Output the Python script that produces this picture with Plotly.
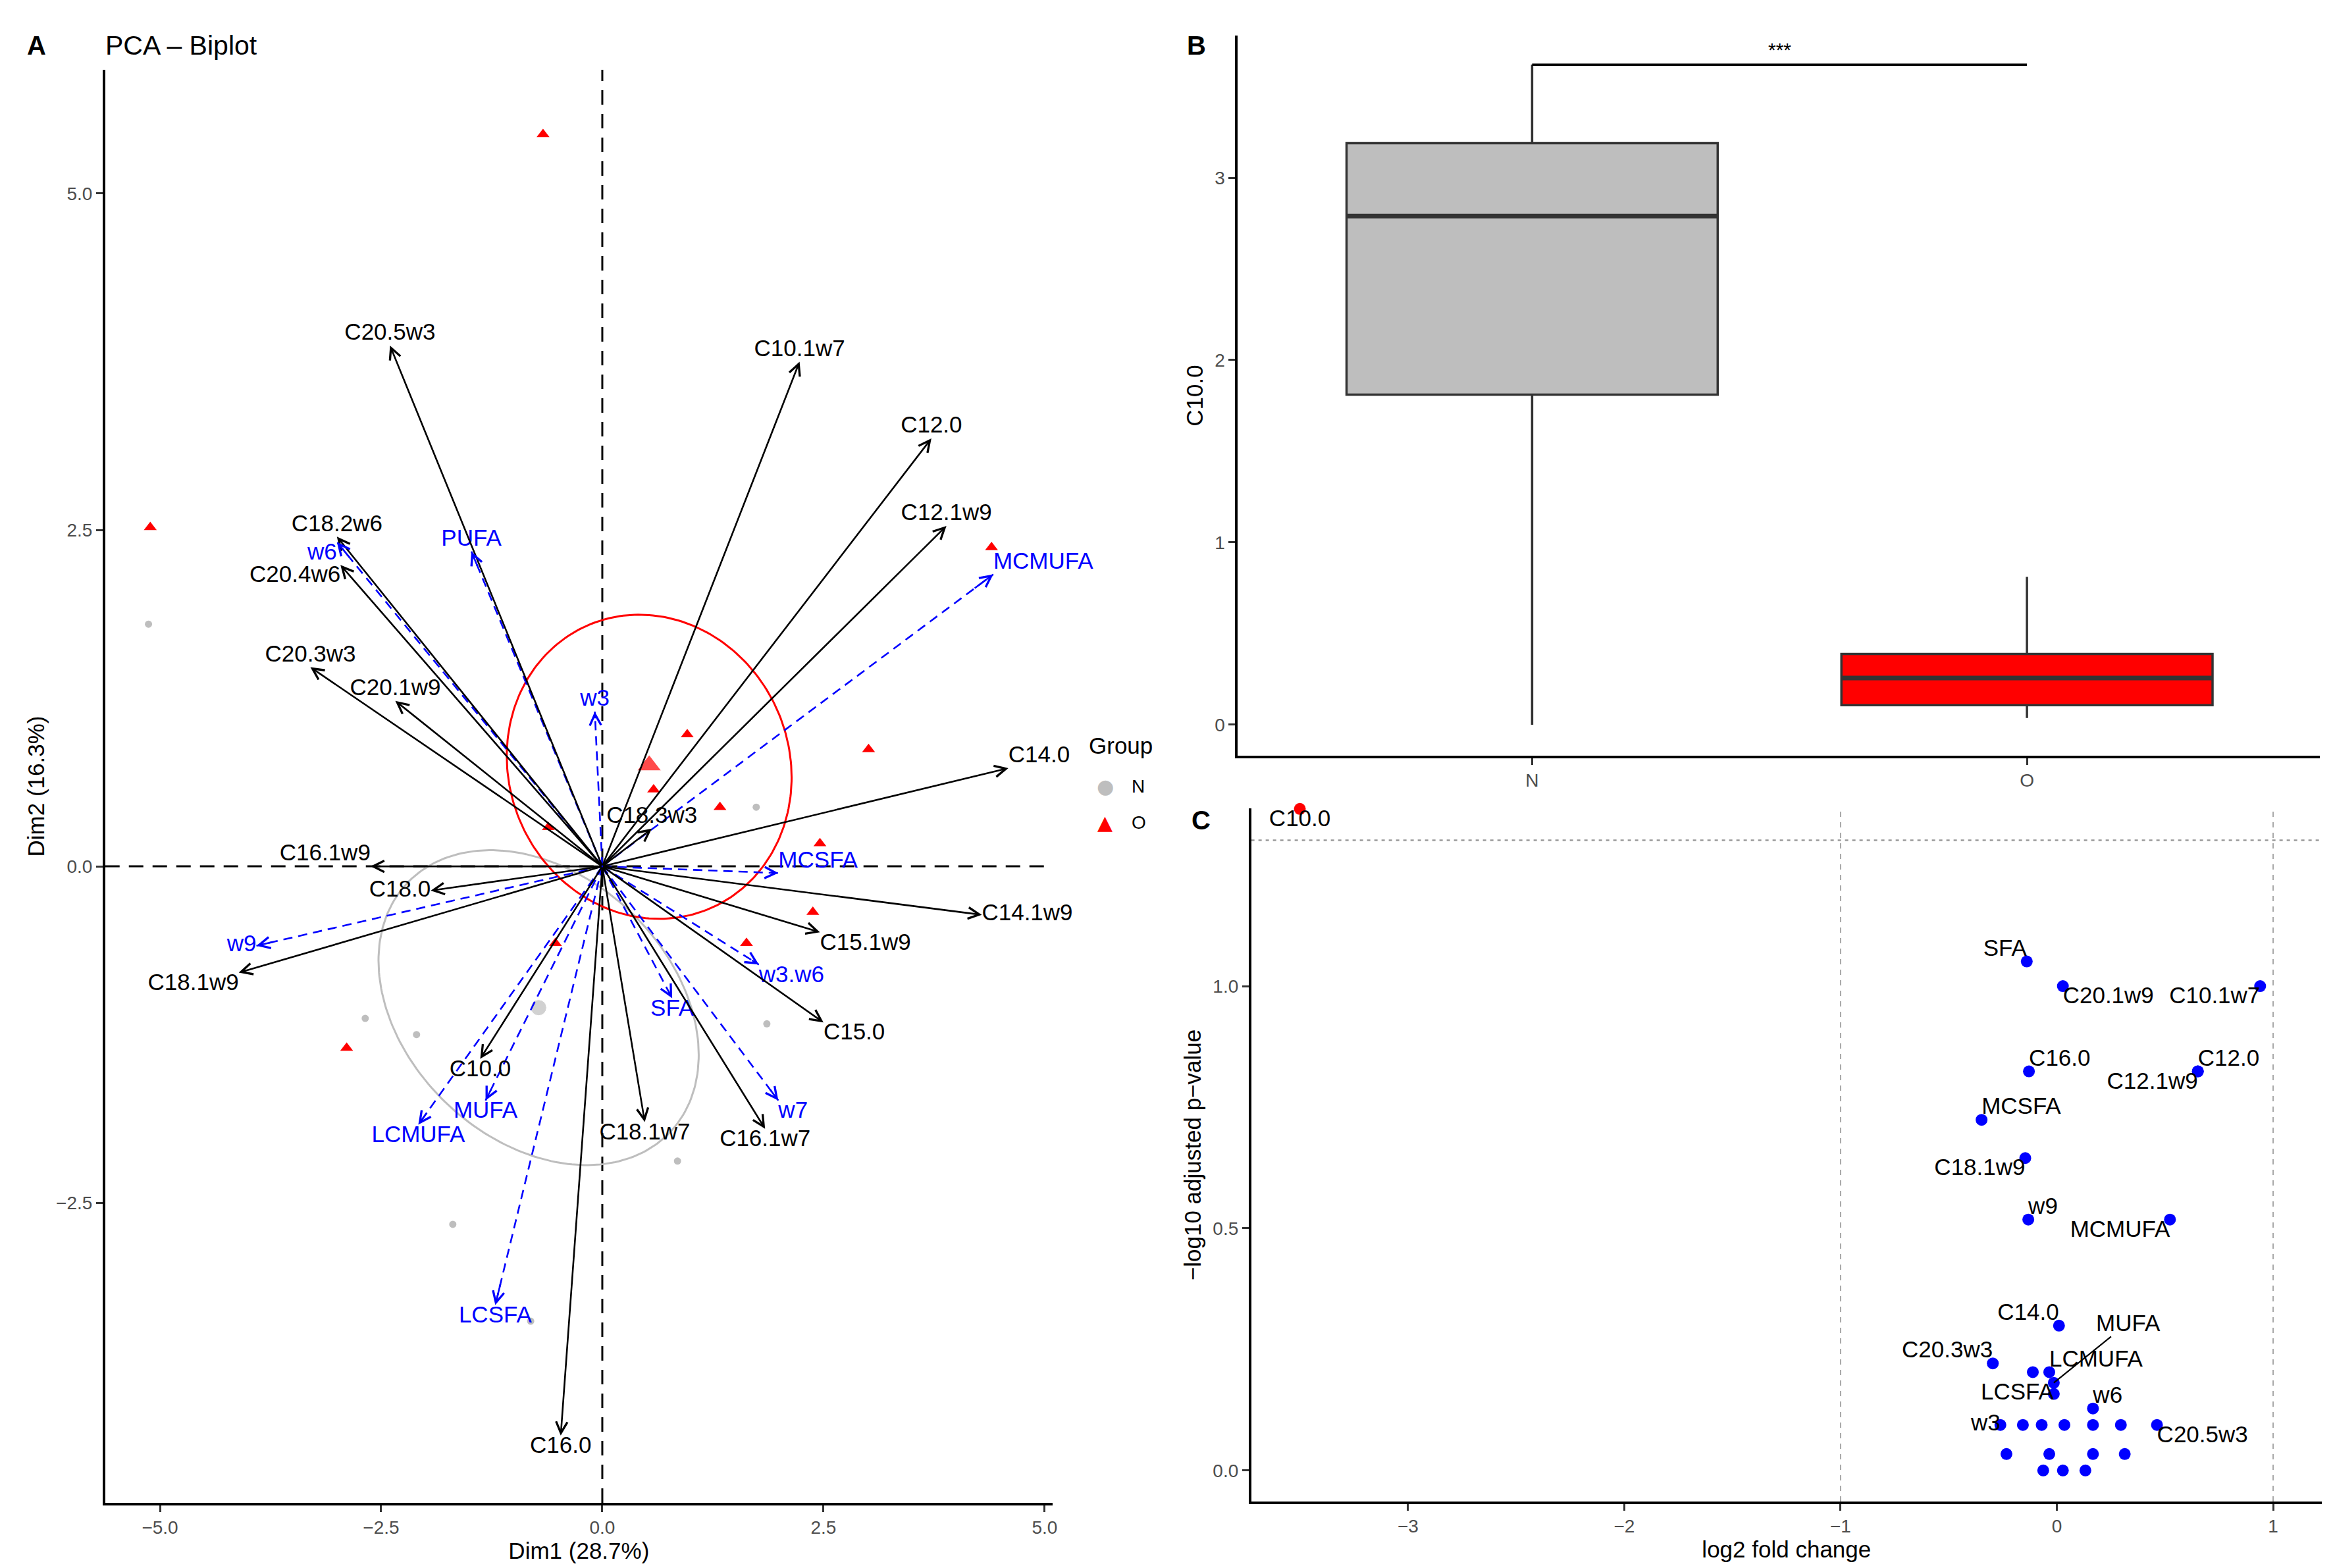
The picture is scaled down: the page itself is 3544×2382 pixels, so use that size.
import numpy as np
import plotly.graph_objects as go

FONT = 'Liberation Sans, Arial, sans-serif'
BLUE = '#0000FF'
RED = '#FF0000'
GREY = '#BEBEBE'

# ---------------- panel A : PCA biplot ----------------
var_names = ['C20.5w3', 'C10.1w7', 'C12.0', 'C12.1w9', 'C18.2w6', 'C20.4w6', 'C20.3w3',
             'C20.1w9', 'C14.0', 'C18.3w3', 'C16.1w9', 'C18.0', 'C18.1w9', 'C14.1w9',
             'C15.1w9', 'C15.0', 'C10.0', 'C18.1w7', 'C16.1w7', 'C16.0']
var_dim1 = [-2.40, 2.23, 3.72, 3.89, -3.00, -2.96, -3.30, -2.34, 4.59, 0.56, -2.62, -1.94,
            -4.11, 4.29, 2.46, 2.50, -1.38, 0.48, 1.84, -0.47]
var_dim2 = [3.87, 3.75, 3.18, 2.53, 2.45, 2.24, 1.48, 1.23, 0.73, 0.28, 0.00, -0.18,
            -0.79, -0.36, -0.49, -1.16, -1.43, -1.90, -1.95, -4.23]
var_label_pos = ['top center', 'top center', 'top center', 'top center', 'top center',
                 'bottom left', 'top center', 'top center', 'top right', 'top center',
                 'top left', 'middle left', 'bottom left', 'middle right', 'bottom right',
                 'bottom right', 'bottom center', 'bottom center', 'bottom center',
                 'bottom center']

sup_names = ['PUFA', 'w6', 'MCMUFA', 'w3', 'MCSFA', 'w9', 'w3.w6', 'SFA', 'w7', 'MUFA',
             'LCMUFA', 'LCSFA']
sup_dim1 = [-1.48, -3.00, 4.42, -0.085, 1.99, -3.91, 1.77, 0.79, 1.99, -1.32, -2.08, -1.21]
sup_dim2 = [2.34, 2.41, 2.17, 1.15, -0.05, -0.59, -0.73, -0.98, -1.74, -1.74, -1.92, -3.26]
sup_label_pos = ['top center', 'bottom left', 'top right', 'top center', 'top right',
                 'middle left', 'bottom right', 'bottom center', 'bottom right',
                 'bottom center', 'bottom center', 'bottom center']

ind_N_dim1 = [-5.13, 1.74, -2.68, -2.10, 1.86, 0.85, -1.69, -0.81]
ind_N_dim2 = [1.80, 0.44, -1.13, -1.25, -1.17, -2.19, -2.66, -3.38]
ind_O_dim1 = [-0.67, -5.11, 4.40, 0.96, 3.01, 0.58, 1.33, 2.38, 1.63, -0.53, -2.89, -0.61, 2.46]
ind_O_dim2 = [5.44, 2.52, 2.37, 0.98, 0.87, 0.57, 0.44, -0.34, -0.57, -0.57, -1.35, 0.29, 0.17]
centroid_dim1 = [-0.72, 0.53]
centroid_dim2 = [-1.05, 0.75]

# confidence ellipses (centre, half extents, tilt as cosine of phase)
ell_cx = [-0.72, 0.53]
ell_cy = [-1.05, 0.74]
ell_ax = [1.81, 1.61]
ell_ay = [1.17, 1.13]
ell_cos = [-0.30, -0.07]
ell_colors = [GREY, RED]

legend_title = 'Group'
legend_groups = ['N', 'O']
legend_glyphs = ['\u25cf', '\u25b2']
legend_colors = [GREY, RED]

# ---------------- panel B : boxplot ----------------
groups = ['N', 'O']
box_q1 = [1.81, 0.107]
box_median = [2.79, 0.256]
box_q3 = [3.19, 0.388]
box_low = [0.0, 0.037]
box_high = [3.62, 0.811]
box_fill = [GREY, RED]
sig_y = 3.62
sig_text = '***'

# ---------------- panel C : volcano ----------------
volc_names = ['C10.0', 'SFA', 'C20.1w9', 'C10.1w7', 'C16.0', 'C12.0', 'C12.1w9', 'MCSFA',
              'C18.1w9', 'w9', 'MCMUFA', 'C14.0', 'C20.3w3', 'C18.0', 'LCMUFA', 'MUFA',
              'LCSFA', 'w6', 'w3', 'C16.1w9', 'C18.2w6', 'C14.1w9', 'C15.1w9', 'C18.3w3',
              'C20.5w3', 'C15.0', 'C16.1w7', 'C18.1w7', 'C20.4w6', 'PUFA', 'w7', 'w3.w6']
volc_lfc = [-3.50, -0.139, 0.028, 0.94, -0.129, 0.652, 0.652, -0.348, -0.146, -0.132, 0.523,
            0.01, -0.296, -0.111, -0.035, -0.014, -0.014, 0.167, -0.261, -0.157, -0.07,
            0.035, 0.167, 0.296, 0.463, -0.233, -0.035, 0.167, 0.314, -0.063, 0.028, 0.132]
volc_nlp = [1.366, 1.051, 1.0, 1.0, 0.824, 0.824, 0.824, 0.724, 0.645, 0.518, 0.518, 0.299,
            0.221, 0.203, 0.203, 0.181, 0.158, 0.128, 0.094, 0.094, 0.094, 0.094, 0.094,
            0.094, 0.094, 0.034, 0.034, 0.034, 0.034, 0.0, 0.0, 0.0]
volc_label_pos = ['bottom center', 'top left', 'bottom right', 'bottom left', 'top right',
                  'top right', 'bottom left', 'top right', 'bottom left', 'top right',
                  'bottom left', 'top left', 'top left', '', 'top right', 'leader',
                  'middle left', 'top right', 'middle left', '', '', '', '', '',
                  'bottom right', '', '', '', '', '', '', '']
volc_sig = 1.301
volc_fc_lines = [-1, 1]

fig = go.Figure()

# ellipses
t = np.linspace(0, 2 * np.pi, 241)
for cx, cy, a, b, c, col in zip(ell_cx, ell_cy, ell_ax, ell_ay, ell_cos, ell_colors):
    d = np.arccos(c)
    fig.add_trace(go.Scatter(x=cx + a * np.cos(t), y=cy + b * np.cos(t - d), mode='lines',
                             line=dict(color=col, width=3), hoverinfo='skip',
                             showlegend=False, xaxis='x', yaxis='y'))

# individuals
fig.add_trace(go.Scatter(x=ind_N_dim1, y=ind_N_dim2, mode='markers', showlegend=False,
                         marker=dict(symbol='circle', size=11, color=GREY)))
fig.add_trace(go.Scatter(x=ind_O_dim1, y=ind_O_dim2, mode='markers', showlegend=False,
                         marker=dict(symbol='triangle-up', size=17, color=RED)))
fig.add_trace(go.Scatter(x=centroid_dim1, y=centroid_dim2, mode='markers', showlegend=False,
                         marker=dict(symbol=['circle', 'triangle-up'], size=[24, 32],
                                     color=[GREY, RED])))

# supplementary variables: dashed blue shafts
sx, sy = [], []
for x, y in zip(sup_dim1, sup_dim2):
    sx += [0, x, None]
    sy += [0, y, None]
fig.add_trace(go.Scatter(x=sx, y=sy, mode='lines', showlegend=False, hoverinfo='skip',
                         line=dict(color=BLUE, width=2.6, dash='14px,9px')))

# labels
fig.add_trace(go.Scatter(x=var_dim1, y=var_dim2, mode='text', text=var_names,
                         textposition=var_label_pos, showlegend=False, cliponaxis=False,
                         textfont=dict(family=FONT, size=35, color='#000000')))
fig.add_trace(go.Scatter(x=sup_dim1, y=sup_dim2, mode='text', text=sup_names,
                         textposition=sup_label_pos, showlegend=False, cliponaxis=False,
                         textfont=dict(family=FONT, size=35, color=BLUE)))

annotations = []
for x, y in zip(var_dim1, var_dim2):
    annotations.append(dict(x=x, y=y, ax=0, ay=0, xref='x', yref='y', axref='x', ayref='y',
                            text='', showarrow=True, arrowhead=5, arrowsize=1.3,
                            arrowwidth=2.6, arrowcolor='#000000'))
for x, y in zip(sup_dim1, sup_dim2):
    annotations.append(dict(x=x, y=y, ax=0.95 * x, ay=0.95 * y, xref='x', yref='y',
                            axref='x', ayref='y', text='', showarrow=True, arrowhead=5,
                            arrowsize=1.3, arrowwidth=2.6, arrowcolor=BLUE))

# legend drawn as text
annotations.append(dict(x=1647 / 3544, y=1 - 1124 / 2382, xref='paper', yref='paper',
                        text=legend_title, showarrow=False, xanchor='left', yanchor='middle',
                        font=dict(family=FONT, size=35, color='#000000')))
for k, (g, glyph, col) in enumerate(zip(legend_groups, legend_glyphs, legend_colors)):
    ypx = 1186 + 55 * k
    annotations.append(dict(x=1674 / 3544, y=1 - ypx / 2382, xref='paper', yref='paper',
                            text=glyph, showarrow=False, xanchor='center', yanchor='middle',
                            font=dict(family='DejaVu Sans', size=30, color=col)))
    annotations.append(dict(x=1712 / 3544, y=1 - ypx / 2382, xref='paper', yref='paper',
                            text=g, showarrow=False, xanchor='left', yanchor='middle',
                            font=dict(family=FONT, size=28, color='#000000')))

# ---------- panel B ----------
for i, g in enumerate(groups):
    fig.add_trace(go.Box(x=[i], q1=[box_q1[i]], median=[box_median[i]], q3=[box_q3[i]],
                         lowerfence=[box_low[i]], upperfence=[box_high[i]], width=0.75,
                         whiskerwidth=0, fillcolor=box_fill[i], boxpoints=False,
                         line=dict(color='#333333', width=3.5), showlegend=False,
                         hoverinfo='skip', xaxis='x2', yaxis='y2'))
    fig.add_trace(go.Scatter(x=[i - 0.375, i + 0.375], y=[box_median[i]] * 2, mode='lines',
                             line=dict(color='#333333', width=7), showlegend=False,
                             hoverinfo='skip', xaxis='x2', yaxis='y2'))
fig.add_trace(go.Scatter(x=[0, 1], y=[sig_y, sig_y], mode='lines', showlegend=False,
                         line=dict(color='#000000', width=3.5), xaxis='x2', yaxis='y2'))
annotations.append(dict(x=0.5, y=sig_y, xref='x2', yref='y2', text=sig_text, showarrow=False,
                        yanchor='bottom', yshift=4, font=dict(family=FONT, size=30,
                                                              color='#000000')))

# ---------- panel C ----------
fig.add_trace(go.Scatter(x=volc_lfc, y=volc_nlp, mode='markers', showlegend=False,
                         cliponaxis=False, xaxis='x3', yaxis='y3',
                         marker=dict(size=18, color=[RED if n == 'C10.0' else BLUE
                                                      for n in volc_names])))
lab_x, lab_y, lab_t, lab_p = [], [], [], []
for n, x, y, p in zip(volc_names, volc_lfc, volc_nlp, volc_label_pos):
    if p == 'leader':
        annotations.append(dict(x=x, y=y, xref='x3', yref='y3', ax=0.33, ay=0.305,
                                axref='x3', ayref='y3', text=n, showarrow=True,
                                arrowhead=0, arrowwidth=2.2, arrowcolor='#000000',
                                font=dict(family=FONT, size=35, color='#000000')))
    elif p:
        lab_x.append(x)
        lab_y.append(y)
        lab_t.append(n)
        lab_p.append(p)
fig.add_trace(go.Scatter(x=lab_x, y=lab_y, mode='text', text=lab_t, textposition=lab_p,
                         showlegend=False, cliponaxis=False, xaxis='x3', yaxis='y3',
                         textfont=dict(family=FONT, size=35, color='#000000')))

shapes = [
    dict(type='line', xref='x', yref='y domain', x0=0, x1=0, y0=0, y1=1, layer='below',
         line=dict(color='#000000', width=3, dash='22px,14px')),
    dict(type='line', xref='x domain', yref='y', x0=0, x1=1, y0=0, y1=0, layer='below',
         line=dict(color='#000000', width=3, dash='22px,14px')),
    dict(type='line', xref='x3 domain', yref='y3', x0=0, x1=1, y0=volc_sig, y1=volc_sig,
         layer='below', line=dict(color='#9A9A9A', width=2.5, dash='5px,6px')),
]
for v in volc_fc_lines:
    shapes.append(dict(type='line', xref='x3', yref='y3 domain', x0=v, x1=v, y0=0, y1=1,
                       layer='below', line=dict(color='#A8A8A8', width=2, dash='8px,8px')))

# panel letters and title
for txt, x, y, bold, size in [('A', 48, 61, True, 40), ('PCA \u2013 Biplot', 150, 61, False, 41),
                              ('B', 1813, 61, True, 40), ('C', 1820, 1238, True, 40)]:
    annotations.append(dict(x=x / 3544, y=1 - y / 2382, xref='paper', yref='paper',
                            text='<b>%s</b>' % txt if bold else txt, showarrow=False,
                            xanchor='left' if not bold else 'center', yanchor='middle',
                            font=dict(family=FONT, size=size, color='#000000')))

axis_common = dict(showline=True, linecolor='#000000', linewidth=3.5, ticks='outside',
                   ticklen=10, tickwidth=3, tickcolor='#333333', showgrid=False,
                   zeroline=False, tickfont=dict(family=FONT, size=28, color='#4D4D4D'),
                   title_font=dict(family=FONT, size=35, color='#000000'))

fig.update_layout(
    width=3544, height=2382, margin=dict(l=0, r=0, t=0, b=0), showlegend=False,
    paper_bgcolor='white', plot_bgcolor='white', font=dict(family=FONT),
    xaxis=dict(domain=[0.0429, 0.4498], range=[-5.62, 5.09], tick0=0, dtick=2.5,
               tickformat='.1f', title_text='Dim1 (28.7%)', title_standoff=8, **axis_common),
    yaxis=dict(domain=[0.0449, 0.9589], range=[-4.73, 5.92], tick0=0, dtick=2.5,
               tickformat='.1f', title_text='Dim2 (16.3%)', title_standoff=8, **axis_common),
    xaxis2=dict(domain=[0.5293, 0.9941], range=[-0.595, 1.592], tickvals=[0, 1],
                ticktext=groups, anchor='y2', **axis_common),
    yaxis2=dict(domain=[0.5214, 0.9807], range=[-0.17, 3.78], dtick=1, anchor='x2',
                title_text='C10.0', title_standoff=8, **axis_common),
    xaxis3=dict(domain=[0.5351, 0.9949], range=[-3.725, 1.225], dtick=1, anchor='y3',
                title_text='log2 fold change', title_standoff=8, **axis_common),
    yaxis3=dict(domain=[0.0458, 0.4878], range=[-0.064, 1.367], dtick=0.5, tickformat='.1f',
                anchor='x3', title_text='\u2212log10 adjusted p\u2212value', title_standoff=8,
                **axis_common),
    shapes=shapes, annotations=annotations,
)

fig.write_html('out.html')
